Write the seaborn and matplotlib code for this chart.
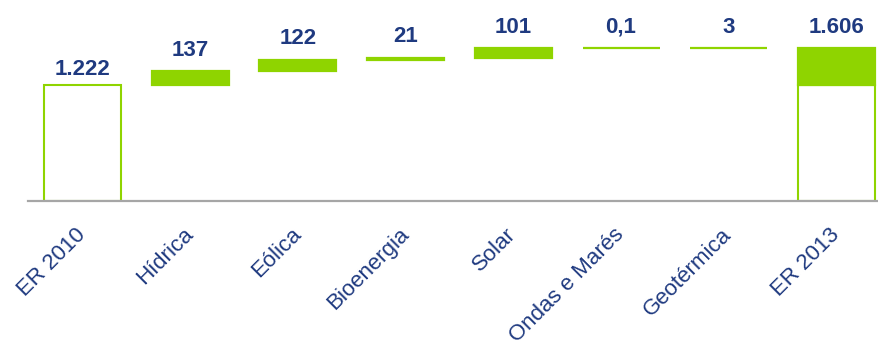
import matplotlib
matplotlib.use("Agg")
import matplotlib.pyplot as plt
import seaborn as sns
import pandas as pd

categories = ["ER 2010", "Hídrica", "Eólica", "Bioenergia", "Solar",
              "Ondas e Marés", "Geotérmica", "ER 2013"]
values = [1222, 137, 122, 21, 101, 0.1, 3, 1606]
value_labels = ["1.222", "137", "122", "21", "101", "0,1", "3", "1.606"]
is_total = [True, False, False, False, False, False, False, True]

GREEN = "#8fd400"
NAVY = "#1f3a80"
AXIS_GREY = "#a6a6a6"

sns.set_theme(style="white")
plt.rcParams["font.family"] = ["Liberation Sans", "DejaVu Sans"]

# Waterfall geometry: increments float on the running total; the final total
# shows the starting stock as an outline and the growth as a filled block.
base = values[0]
running = base
fill_rows, outline_rows = [], []
for cat, val, tot, lab in zip(categories, values, is_total, value_labels):
    if tot and cat == categories[0]:
        outline_rows.append((cat, val, 0.0, lab))
    elif tot:
        outline_rows.append((cat, base, 0.0, ""))
        fill_rows.append((cat, val - base, base, lab))
    else:
        fill_rows.append((cat, val, running, lab))
        running += val

outline_df = pd.DataFrame(outline_rows, columns=["cat", "height", "bottom", "label"])
fill_df = pd.DataFrame(fill_rows, columns=["cat", "height", "bottom", "label"])

fig = plt.figure(figsize=(8.79, 3.47), dpi=100)
ax = fig.add_axes([28 / 879, 146 / 347, 851 / 879, 201 / 347])

sns.barplot(data=outline_df, x="cat", y="height", order=categories,
            bottom=outline_df["bottom"].to_numpy(), width=0.715,
            color="white", edgecolor=GREEN, linewidth=1.5,
            errorbar=None, ax=ax, zorder=2)
sns.barplot(data=fill_df, x="cat", y="height", order=categories,
            bottom=fill_df["bottom"].to_numpy(), width=0.715,
            color=GREEN, edgecolor=GREEN, linewidth=1.6, saturation=1,
            errorbar=None, ax=ax, zorder=3)

outline_bars, fill_bars = ax.containers[0], ax.containers[1]
ax.bar_label(outline_bars, labels=outline_df["label"].tolist(), padding=3.5,
             fontsize=16, fontweight="bold", color=NAVY)
fill_pad = [7 if cat == categories[-1] else 7.5 for cat in fill_df["cat"]]
for bar, lab, pad in zip(fill_bars, fill_df["label"], fill_pad):
    ax.annotate(lab, (bar.get_x() + bar.get_width() / 2, bar.get_y() + bar.get_height()),
                xytext=(0, pad), textcoords="offset points", ha="center", va="bottom",
                fontsize=16, fontweight="bold", color=NAVY)

ax.set_xlim(-0.506, 7.395)
ax.set_ylim(0, 2109)
ax.set_xlabel("")
ax.set_ylabel("")
ax.set_yticks([])
ax.set_xticks(range(len(categories)))
ax.set_xticklabels(categories, rotation=45, ha="right", va="center",
                   rotation_mode="anchor", fontsize=16, color=NAVY)
ax.tick_params(axis="x", length=0, pad=22)
for side in ("left", "right", "top"):
    ax.spines[side].set_visible(False)
ax.spines["bottom"].set_color(AXIS_GREY)
ax.spines["bottom"].set_linewidth(1.6)
ax.spines["bottom"].set_zorder(5)
ax.patch.set_alpha(0)

fig.savefig("out.png", dpi=100)
